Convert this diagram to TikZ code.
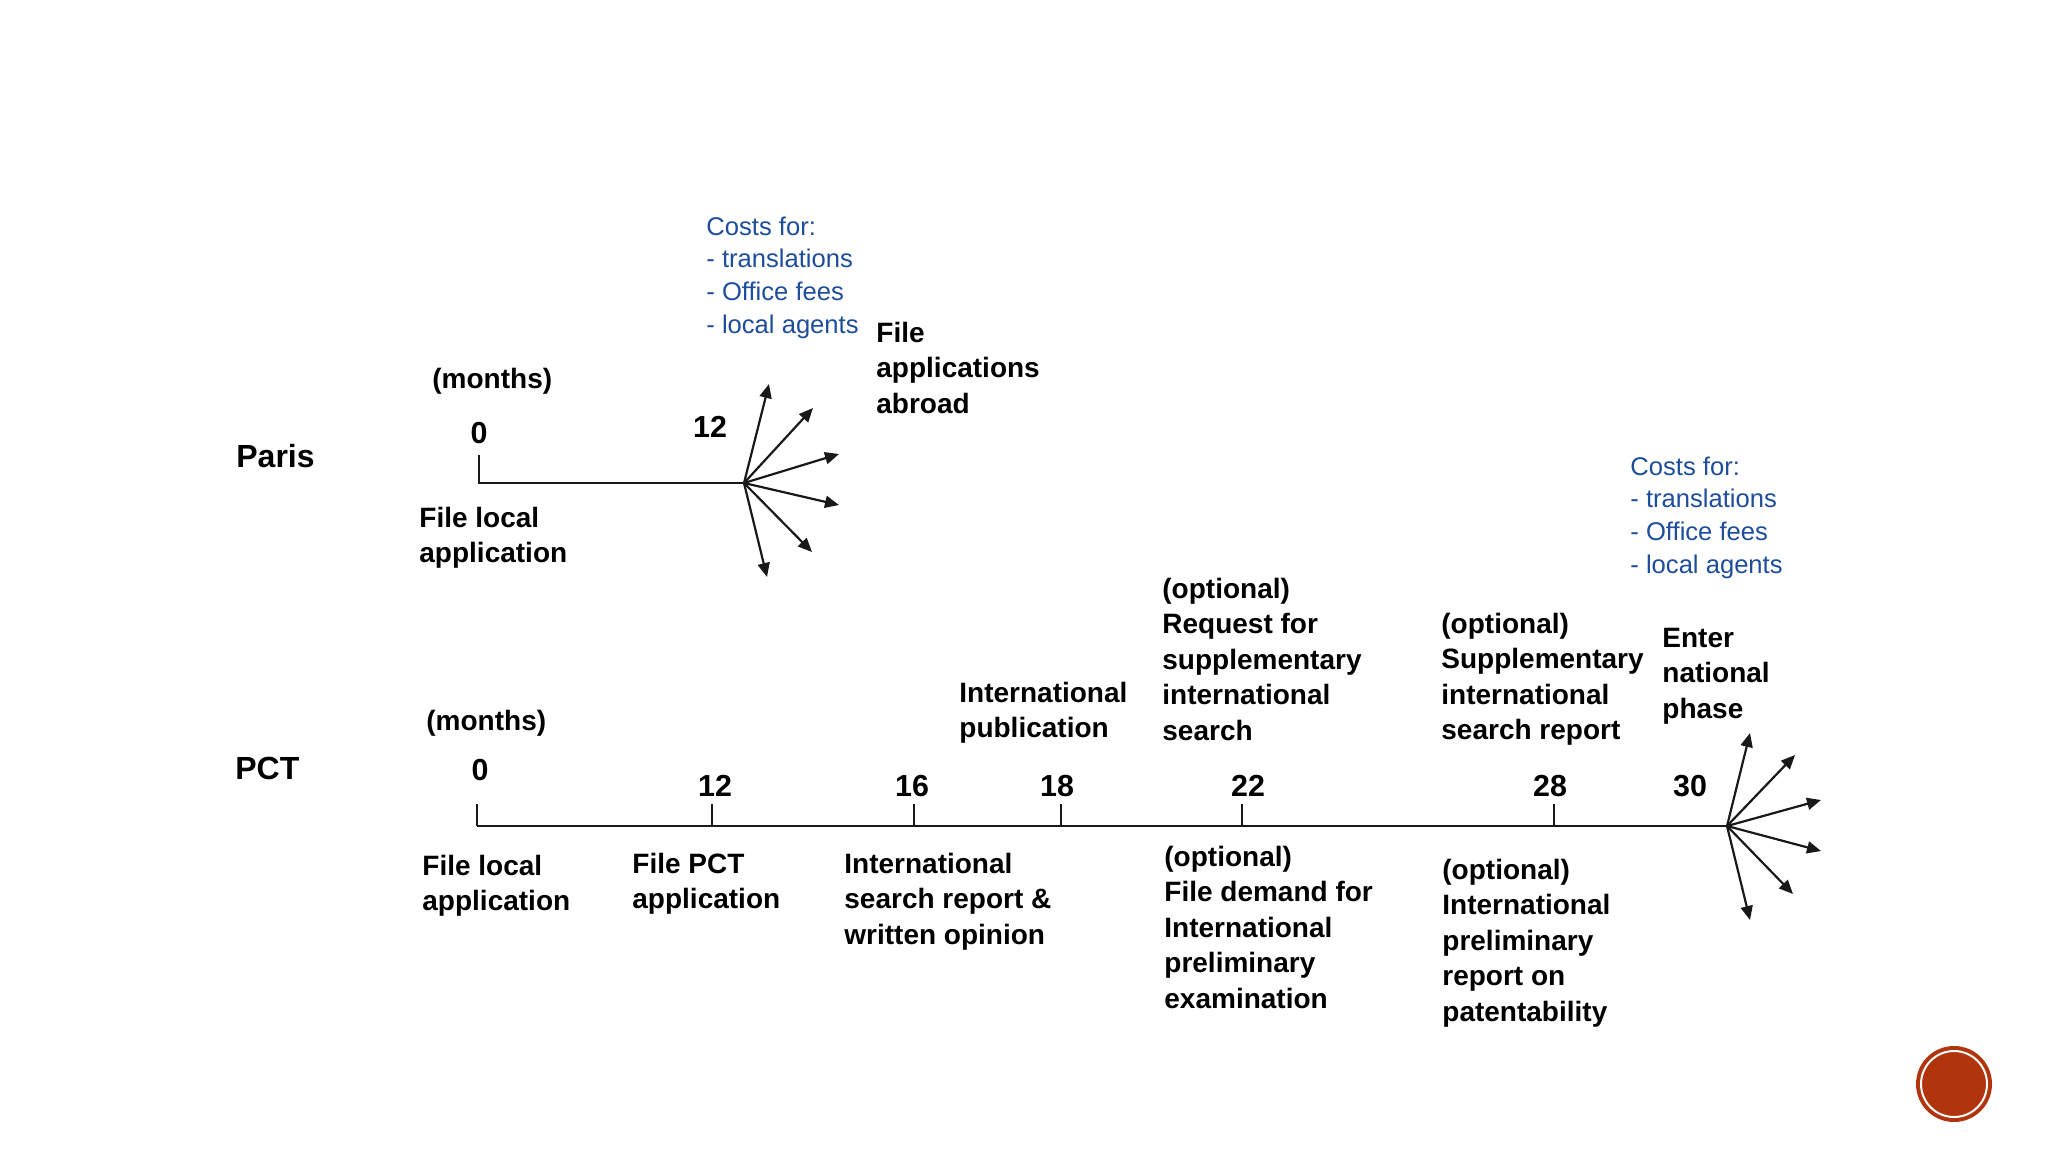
\documentclass[tikz,border=0pt]{standalone}
\usepackage{fontspec}
\setmainfont{Liberation Sans}
\usetikzlibrary{arrows.meta}
\definecolor{costblue}{RGB}{30,78,155}
\definecolor{circred}{RGB}{176,52,12}
\newcommand{\mylines}[1]{\begin{tabular}[t]{@{}l@{}}#1\end{tabular}}
\begin{document}
\begin{tikzpicture}[x=0.5pt,y=-0.5pt,
  lbl/.style={anchor=base west, inner sep=0pt, font=\fontsize{14}{17.75}\selectfont\bfseries},
  costs/.style={anchor=base west, inner sep=0pt, text=costblue, font=\fontsize{12.8}{16.35}\selectfont},
  num/.style={anchor=base, inner sep=0pt, font=\fontsize{15.2}{18}\selectfont\bfseries},
  head/.style={anchor=base west, inner sep=0pt, font=\fontsize{16}{19}\selectfont\bfseries},
  tl/.style={line width=1.2pt, draw=black!90},
  fan/.style={line width=1.1pt, draw=black!90, -{Triangle[length=7pt,width=6pt]}}]
\useasboundingbox[fill=white] (0,0) rectangle (2048,1152);

% ---------------- Paris ----------------
\node[head] (paris) at (236,467) {Paris};
\node[lbl] (pmonths) at (432,388) {(months)};
\node[num] (pn0) at (479,443) {0};
\node[num] (pn12) at (710,437) {12};
\node[lbl] (plocal) at (419,527) {\mylines{File local\\application}};
\node[costs] (pcosts) at (706,235) {\mylines{Costs for:\\- translations\\- Office fees\\- local agents}};
\node[lbl] (pabroad) at (876,342) {\mylines{File\\applications\\abroad}};

\coordinate (ptop) at (479,455);
\coordinate (p0) at (479,483);
\coordinate (pf) at (744,483);
\draw[tl] (ptop) -- (p0) -- (pf);
\coordinate (pa1) at (769,384);
\coordinate (pa2) at (813,408);
\coordinate (pa3) at (839,454);
\coordinate (pa4) at (839,505);
\coordinate (pa5) at (812,552);
\coordinate (pa6) at (767,577);
\foreach \t in {pa1,pa2,pa3,pa4,pa5,pa6} \draw[fan] (pf) -- (\t);

% ---------------- PCT ----------------
\node[head] (pct) at (235,779) {PCT};
\node[lbl] (cmonths) at (426,730) {(months)};
\node[num] (c0) at (480,780) {0};
\node[num] (c12) at (715,796) {12};
\node[num] (c16) at (912,796) {16};
\node[num] (c18) at (1057,796) {18};
\node[num] (c22) at (1248,796) {22};
\node[num] (c28) at (1550,796) {28};
\node[num] (c30) at (1690,796) {30};

\coordinate (cs) at (477,826);
\coordinate (cf) at (1727,826);
\draw[tl] (cs) -- (cf);
\foreach \x [count=\i] in {477,712,914,1061,1242,1554}{
  \coordinate (tk\i) at (\x,826);
  \coordinate (tt\i) at (\x,804);
  \draw[tl] (tk\i) -- (tt\i);
}
\coordinate (ca1) at (1750,733);
\coordinate (ca2) at (1795,755);
\coordinate (ca3) at (1821,800);
\coordinate (ca4) at (1821,851);
\coordinate (ca5) at (1793,894);
\coordinate (ca6) at (1750,920);
\foreach \t in {ca1,ca2,ca3,ca4,ca5,ca6} \draw[fan] (cf) -- (\t);

\node[lbl] (clocal) at (422,875) {\mylines{File local\\application}};
\node[lbl] (cfile) at (632,873) {\mylines{File PCT\\application}};
\node[lbl] (csearch) at (844,873) {\mylines{International\\search report \&\\written opinion}};
\node[lbl] (cpub) at (959,702) {\mylines{International\\publication}};
\node[lbl] (creq) at (1162,598) {\mylines{(optional)\\Request for\\supplementary\\international\\search}};
\node[lbl] (cdem) at (1164,866) {\mylines{(optional)\\File demand for\\International\\preliminary\\examination}};
\node[lbl] (csup) at (1441,633) {\mylines{(optional)\\Supplementary\\international\\search report}};
\node[lbl] (cipr) at (1442,879) {\mylines{(optional)\\International\\preliminary\\report on\\patentability}};
\node[lbl] (center) at (1662,647) {\mylines{Enter\\national\\phase}};
\node[costs] (ccosts) at (1630,475) {\mylines{Costs for:\\- translations\\- Office fees\\- local agents}};

% ---------------- badge ----------------
\node[circle, fill=circred, minimum size=38pt, inner sep=0pt] (badge) at (1954,1084) {};
\draw[white, line width=1pt] (badge.center) circle[radius=33];
\end{tikzpicture}
\end{document}
